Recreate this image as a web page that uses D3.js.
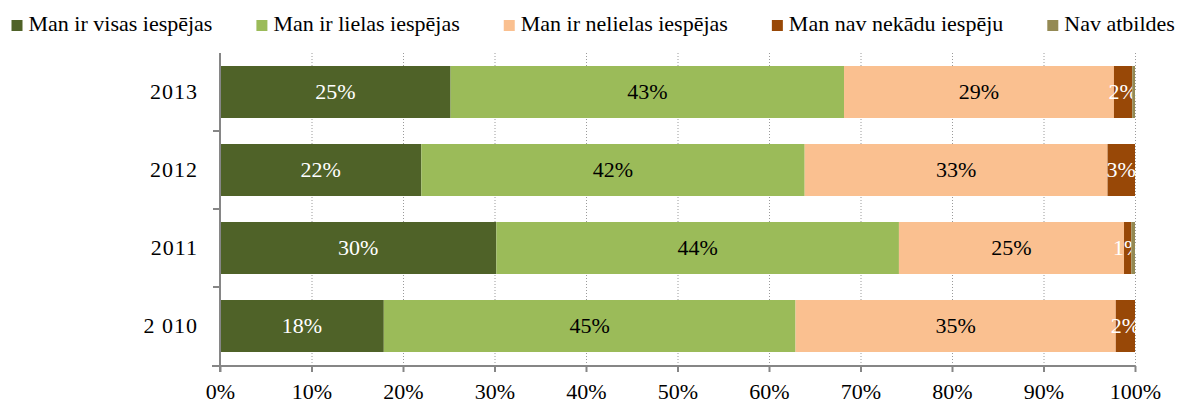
<!DOCTYPE html>
<html><head><meta charset="utf-8">
<script src="https://cdn.jsdelivr.net/npm/d3@7"></script>
<style>body{margin:0;background:#fff}svg{display:block}text{font-family:"Liberation Serif","DejaVu Serif",serif}</style>
</head><body><svg id="c" width="1182" height="403"></svg>
<script>
const years = ["2013","2012","2011","2 010"];
const seriesNames = ["Man ir visas iespējas","Man ir lielas iespējas","Man ir nelielas iespējas","Man nav nekādu iespēju","Nav atbildes"];
const colors = ["#4F6228","#9BBB59","#FAC090","#984807","#948A54"];
const labelColors = ["#fff","#000","#000","#fff",null];
const s1 = [25.2, 22.0, 30.2, 17.9];
const s2 = [43.0, 41.9, 44.0, 45.0];
const s3 = [29.5, 33.1, 24.6, 35.0];
const s4 = [2.0, 3.0, 0.8, 2.1];
const s5 = [0.3, 0.0, 0.4, 0.0];
const labels = [["25%","22%","30%","18%"],["43%","42%","44%","45%"],["29%","33%","25%","35%"],["2%","3%","1%","2%"],[null,null,null,null]];
const xTicks = [0,10,20,30,40,50,60,70,80,90,100];

const series = [s1,s2,s3,s4,s5];
const FS = 22;
const svg = d3.select("#c");
const x = d3.scaleLinear().domain([0,100]).range([220,1135]);
const y = d3.scaleBand().domain(years).range([53,365]).paddingInner(1/3).paddingOuter(1/6);
const axisY = 366;

// gridlines
svg.append("g").selectAll("line").data(xTicks.slice(1)).join("line")
  .attr("x1",d=>x(d)+0.5).attr("x2",d=>x(d)+0.5).attr("y1",53).attr("y2",axisY)
  .attr("stroke","#9a9a9a").attr("stroke-width",1).attr("stroke-dasharray","1,2");

// bars
years.forEach((yr,i)=>{
  let cum=0;
  series.forEach((s,k)=>{
    const v=s[i]; const x0=cum; cum+=v;
    if(v<=0) return;
    svg.append("rect").attr("x",x(x0)).attr("y",y(yr)).attr("width",x(cum)-x(x0)).attr("height",y.bandwidth()).attr("fill",colors[k]);
    const lab=labels[k][i];
    if(lab){
      svg.append("text").attr("x",x(x0+v/2)).attr("y",y(yr)+y.bandwidth()/2+7).attr("text-anchor","middle")
        .attr("font-size",FS).attr("fill",labelColors[k]).text(lab);
    }
  });
});

// x axis
const xa = svg.append("g").attr("transform",`translate(0,${axisY})`)
  .call(d3.axisBottom(x).tickValues(xTicks).tickFormat(d=>d+"%").tickSize(6).tickSizeOuter(0));
xa.select(".domain").attr("stroke","#868686").attr("stroke-width",2).attr("d","M212,0H1135");
xa.selectAll(".tick line").attr("stroke","#868686").attr("stroke-width",2);
xa.selectAll("text").attr("font-size",FS).attr("fill","#000").attr("y",33).attr("dy",null).attr("font-family","Liberation Serif");

// y axis
svg.append("line").attr("x1",220).attr("x2",220).attr("y1",53).attr("y2",axisY+6).attr("stroke","#868686").attr("stroke-width",2);
const bounds=y.domain().slice(1).map(d=>y(d)-y.step()*y.paddingInner()/2);
svg.append("g").selectAll("line").data(bounds).join("line").attr("x1",213).attr("x2",220).attr("y1",d=>d).attr("y2",d=>d).attr("stroke","#868686").attr("stroke-width",2);
svg.append("g").selectAll("text").data(years).join("text").attr("x",198).attr("y",d=>y(d)+y.bandwidth()/2+7)
  .attr("text-anchor","end").attr("font-size",FS).attr("letter-spacing",1).attr("fill","#000").text(d=>d);

// legend
let lx=11.5;
seriesNames.forEach((n,k)=>{
  svg.append("rect").attr("x",lx).attr("y",20).attr("width",11).attr("height",11).attr("fill",colors[k]);
  const t=svg.append("text").attr("x",lx+17).attr("y",31).attr("font-size",FS).attr("fill","#000").text(n);
  lx += 17 + t.node().getComputedTextLength() + 44;
});
</script></body></html>
